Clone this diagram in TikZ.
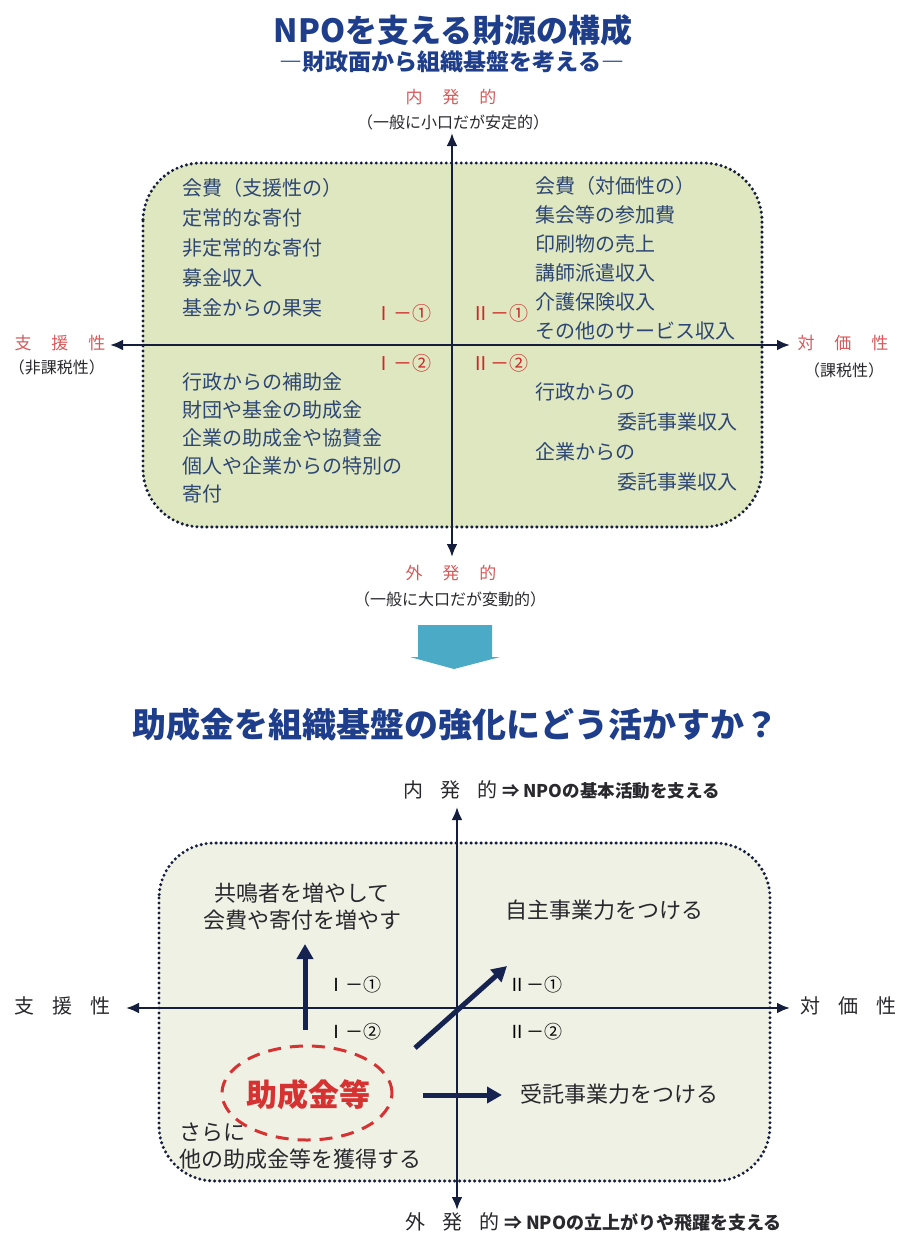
\documentclass[tikz,border=0pt]{standalone}
\usepackage{fontspec}
\setmainfont{Noto Sans CJK JP}
\usetikzlibrary{arrows.meta,shapes.geometric}
\definecolor{titleblue}{RGB}{30,62,140}
\definecolor{txtblue}{RGB}{45,70,115}
\definecolor{lblred}{RGB}{205,40,40}
\definecolor{pinkred}{RGB}{215,90,90}
\definecolor{axiscol}{RGB}{22,30,62}
\definecolor{fillA}{RGB}{223,231,192}
\definecolor{fillB}{RGB}{239,241,228}
\definecolor{blockblue}{RGB}{75,170,198}
\definecolor{darktxt}{RGB}{40,40,45}
\definecolor{navy}{RGB}{22,35,80}
\definecolor{ellred}{RGB}{215,50,50}
\begin{document}
\begin{tikzpicture}[x=1pt,y=-1pt,
  every node/.style={inner sep=0pt,outer sep=0pt},
  dotborder/.style={draw=axiscol,line width=3.4pt,dash pattern=on 0pt off 5pt,line cap=round},
  axisline/.style={draw=axiscol,line width=2.4pt,{Latex[length=13pt,width=11pt]}-{Latex[length=13pt,width=11pt]}},
  qtext/.style={text=txtblue,align=left,anchor=north west},
  rlabel/.style={text=lblred,font=\fontsize{19}{21}\selectfont},
  blabel/.style={text=black,font=\fontsize{18}{20}\selectfont},
  axred/.style={text=pinkred,font=\fontsize{17}{19}\selectfont},
  axsub/.style={text=darktxt,font=\fontsize{16}{18}\selectfont},
  btext/.style={text=darktxt,font=\fontsize{22}{27}\selectfont},
  thickarrow/.style={draw=navy,line width=5pt,-{Triangle[length=15pt,width=16pt]}},
  titlestyle/.style={text=titleblue,font=\bfseries}
]
\useasboundingbox (0,0) rectangle (906,1235);
\fill[white] (0,0) rectangle (906,1235);

% ---------- top diagram ----------
\node[titlestyle,font=\fontsize{32}{36}\selectfont\bfseries] (t1title) at (453,30) {NPOを支える財源の構成};
\node[titlestyle,font=\fontsize{23}{26}\selectfont\bfseries] (t1sub) at (452,62) {―財政面から組織基盤を考える―};

\filldraw[fill=fillA,dotborder,rounded corners=58pt] (143,163) rectangle (762,527);

\node[axred] (t1in) at (451,97) {内\hspace{20pt}発\hspace{20pt}的};
\node[axsub] (t1insub) at (453,122) {（一般に小口だが安定的）};
\node[axred] (t1out) at (451,573) {外\hspace{20pt}発\hspace{20pt}的};
\node[axsub] (t1outsub) at (450,599) {（一般に大口だが変動的）};
\node[axred] (t1left) at (60,343) {支\hspace{20pt}援\hspace{20pt}性};
\node[axsub] (t1leftsub) at (57,367) {（非課税性）};
\node[axred] (t1right) at (843,343) {対\hspace{20pt}価\hspace{20pt}性};
\node[axsub] (t1rightsub) at (844,370) {（課税性）};

\coordinate (v1t) at (452,133);
\coordinate (v1b) at (452,557);
\coordinate (h1l) at (110,345);
\coordinate (h1r) at (790,345);
\draw[axisline] (v1b) -- (v1t);
\draw[axisline] (h1l) -- (h1r);

\node[qtext,font=\fontsize{20}{30}\selectfont] (t1tl) at (182,178) {会費（支援性の）\\定常的な寄付\\非定常的な寄付\\募金収入\\基金からの果実};
\node[qtext,font=\fontsize{20}{29}\selectfont] (t1tr) at (535,176) {会費（対価性の）\\集会等の参加費\\印刷物の売上\\講師派遣収入\\介護保険収入\\その他のサービス収入};
\node[qtext,font=\fontsize{20}{28}\selectfont] (t1bl) at (182,373) {行政からの補助金\\財団や基金の助成金\\企業の助成金や協賛金\\個人や企業からの特別の\\寄付};
\node[qtext,font=\fontsize{20}{30}\selectfont] (t1br) at (535,383) {行政からの\\\hspace*{82pt}委託事業収入\\企業からの\\\hspace*{82pt}委託事業収入};

\node[rlabel] (t1q1a) at (403,313) {Ⅰ－①};
\node[rlabel] (t1q2a) at (500,313) {Ⅱ－①};
\node[rlabel] (t1q1b) at (403,363) {Ⅰ－②};
\node[rlabel] (t1q2b) at (500,363) {Ⅱ－②};

% ---------- block arrow ----------
\fill[blockblue] (418,625) -- (492,625) -- (492,657) -- (500,657) -- (454,669) -- (410,657) -- (418,657) -- cycle;

% ---------- bottom diagram ----------
\node[titlestyle,font=\fontsize{34}{38}\selectfont\bfseries] (t2title) at (455,725) {助成金を組織基盤の強化にどう活かすか？};

\filldraw[fill=fillB,dotborder,rounded corners=55pt] (159,843) rectangle (770,1181);

\node[anchor=west,text=darktxt] (t2in) at (403,790) {{\fontsize{20}{22}\selectfont 内\hspace{17pt}発\hspace{17pt}的}\hspace{5pt}{\fontsize{17.5}{19}\selectfont\bfseries ⇒ NPOの基本活動を支える}};
\node[anchor=west,text=darktxt] (t2out) at (405,1222) {{\fontsize{20}{22}\selectfont 外\hspace{17pt}発\hspace{17pt}的}\hspace{5pt}{\fontsize{18}{19}\selectfont\bfseries ⇒ NPOの立上がりや飛躍を支える}};
\node[text=darktxt,font=\fontsize{20}{22}\selectfont] (t2left) at (62,1006) {支\hspace{18pt}援\hspace{18pt}性};
\node[text=darktxt,font=\fontsize{20}{22}\selectfont] (t2right) at (848,1006) {対\hspace{18pt}価\hspace{18pt}性};

\coordinate (v2t) at (457,807);
\coordinate (v2b) at (457,1210);
\coordinate (h2l) at (126,1008);
\coordinate (h2r) at (790,1008);
\draw[axisline] (v2b) -- (v2t);
\draw[axisline] (h2l) -- (h2r);

\node[btext,align=center] (t2tl) at (302,907) {共鳴者を増やして\\会費や寄付を増やす};
\node[btext] (t2tr) at (604,910) {自主事業力をつける};
\node[btext] (t2br) at (619,1094) {受託事業力をつける};
\node[btext,align=left,anchor=north west] (t2more) at (179,1123) {さらに\\他の助成金等を獲得する};

\node[blabel] (t2q1a) at (354,985) {Ⅰ－①};
\node[blabel] (t2q2a) at (535,985) {Ⅱ－①};
\node[blabel] (t2q1b) at (354,1032) {Ⅰ－②};
\node[blabel] (t2q2b) at (535,1032) {Ⅱ－②};

\node[draw=ellred,line width=3pt,dash pattern=on 13pt off 9pt,ellipse,minimum width=170pt,minimum height=94pt] (t2ell) at (307,1093) {};
\node[text=ellred,font=\fontsize{31}{33}\selectfont\bfseries] (t2grant) at (308,1095) {助成金等};

\coordinate (upS) at (305,1030);
\coordinate (upE) at (305,944);
\draw[thickarrow] (upS) -- (upE);
\coordinate (diS) at (415,1048);
\coordinate (diE) at (507,966);
\draw[thickarrow] (diS) -- (diE);
\coordinate (riS) at (423,1095);
\coordinate (riE) at (502,1095);
\draw[thickarrow] (riS) -- (riE);
\end{tikzpicture}
\end{document}
